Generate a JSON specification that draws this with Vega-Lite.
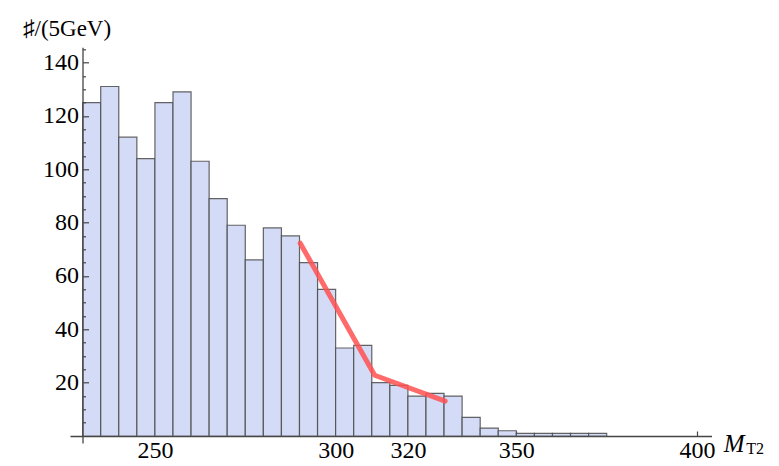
{
  "$schema": "https://vega.github.io/schema/vega-lite/v6.json",
  "width": 641.5,
  "height": 395.7,
  "autosize": {"type": "none"},
  "padding": {"left": 70, "top": 47.3, "right": 67.5, "bottom": 23},
  "background": "white",
  "config": {
    "view": {"stroke": null},
    "font": "Liberation Serif",
    "axis": {"labelFont": "Liberation Serif", "titleFont": "Liberation Serif", "grid": false}
  },
  "datasets": {
    "bins": [
      {"lo": 230, "hi": 235, "count": 125},
      {"lo": 235, "hi": 240, "count": 131},
      {"lo": 240, "hi": 245, "count": 112},
      {"lo": 245, "hi": 250, "count": 104},
      {"lo": 250, "hi": 255, "count": 125},
      {"lo": 255, "hi": 260, "count": 129},
      {"lo": 260, "hi": 265, "count": 103},
      {"lo": 265, "hi": 270, "count": 89},
      {"lo": 270, "hi": 275, "count": 79},
      {"lo": 275, "hi": 280, "count": 66},
      {"lo": 280, "hi": 285, "count": 78},
      {"lo": 285, "hi": 290, "count": 75},
      {"lo": 290, "hi": 295, "count": 65},
      {"lo": 295, "hi": 300, "count": 55},
      {"lo": 300, "hi": 305, "count": 33},
      {"lo": 305, "hi": 310, "count": 34},
      {"lo": 310, "hi": 315, "count": 20},
      {"lo": 315, "hi": 320, "count": 19},
      {"lo": 320, "hi": 325, "count": 15},
      {"lo": 325, "hi": 330, "count": 16},
      {"lo": 330, "hi": 335, "count": 15},
      {"lo": 335, "hi": 340, "count": 7},
      {"lo": 340, "hi": 345, "count": 3},
      {"lo": 345, "hi": 350, "count": 2},
      {"lo": 350, "hi": 355, "count": 1},
      {"lo": 355, "hi": 360, "count": 1},
      {"lo": 360, "hi": 365, "count": 1},
      {"lo": 365, "hi": 370, "count": 1},
      {"lo": 370, "hi": 375, "count": 1}
    ],
    "fit": [
      {"mt2": 290.2, "n": 72.3},
      {"mt2": 310.8, "n": 22.8},
      {"mt2": 330.3, "n": 13.1}
    ],
    "one": [{}]
  },
  "layer": [
    {
      "data": {"name": "bins"},
      "mark": {"type": "bar", "fill": "#d4dbf6", "stroke": "#4a4a4a", "strokeWidth": 1.2, "strokeOpacity": 0.85},
      "encoding": {
        "x": {
          "field": "lo", "type": "quantitative",
          "scale": {"domain": [226.5, 404], "nice": false, "zero": false},
          "axis": {
            "values": [250, 300, 320, 350, 400],
            "offset": -7,
            "tickSize": -5,
            "labelPadding": 7,
            "labelFontSize": 24,
            "labelColor": "#000",
            "domainColor": "#444",
            "domainWidth": 1.3,
            "tickColor": "#444",
            "tickWidth": 1.2,
            "title": null
          }
        },
        "x2": {"field": "hi"},
        "y": {
          "field": "count", "type": "quantitative",
          "scale": {"domain": [-2.6, 145.7], "nice": false, "zero": false},
          "axis": {
            "values": [20, 40, 60, 80, 100, 120, 140],
            "orient": "left",
            "offset": -12.5,
            "tickSize": -6,
            "labelPadding": 10,
            "labelFontSize": 24,
            "labelColor": "#000",
            "domainColor": "#444",
            "domainWidth": 1.3,
            "tickColor": "#444",
            "tickWidth": 1.2,
            "zindex": 1,
            "title": "♯/(5GeV)",
            "titleAngle": 0,
            "titleAlign": "left",
            "titleBaseline": "alphabetic",
            "titleFontSize": 23,
            "titleFontWeight": "normal",
            "titleColor": "#000",
            "titleX": -60,
            "titleY": -12
          }
        },
        "y2": {"datum": 0}
      }
    },
    {
      "data": {"name": "fit"},
      "mark": {"type": "line", "color": "#ff5050", "strokeWidth": 5, "opacity": 0.85, "strokeCap": "round", "strokeJoin": "round"},
      "encoding": {
        "x": {"field": "mt2", "type": "quantitative"},
        "y": {
          "field": "n", "type": "quantitative",
          "axis": {
            "values": [5, 10, 15, 25, 30, 35, 45, 50, 55, 65, 70, 75, 85, 90, 95, 105, 110, 115, 125, 130, 135, 145],
            "orient": "left",
            "offset": -12.5,
            "tickSize": -3,
            "labels": false,
            "domain": false,
            "tickColor": "#444",
            "tickWidth": 1.2,
            "zindex": 1,
            "title": null
          }
        }
      }
    },
    {
      "data": {"name": "one"},
      "mark": {"type": "text", "text": "M", "font": "Liberation Serif", "fontStyle": "italic", "fontSize": 25, "align": "left", "baseline": "alphabetic"},
      "encoding": {"x": {"datum": 407.4}, "y": {"datum": -6, "axis": null}, "color": {"value": "#000"}}
    },
    {
      "data": {"name": "one"},
      "mark": {"type": "text", "text": "T2", "font": "Liberation Serif", "fontSize": 16, "align": "left", "baseline": "alphabetic"},
      "encoding": {"x": {"datum": 413.6}, "y": {"datum": -6.8, "axis": null}, "color": {"value": "#000"}}
    }
  ],
  "resolve": {"axis": {"y": "independent"}}
}
